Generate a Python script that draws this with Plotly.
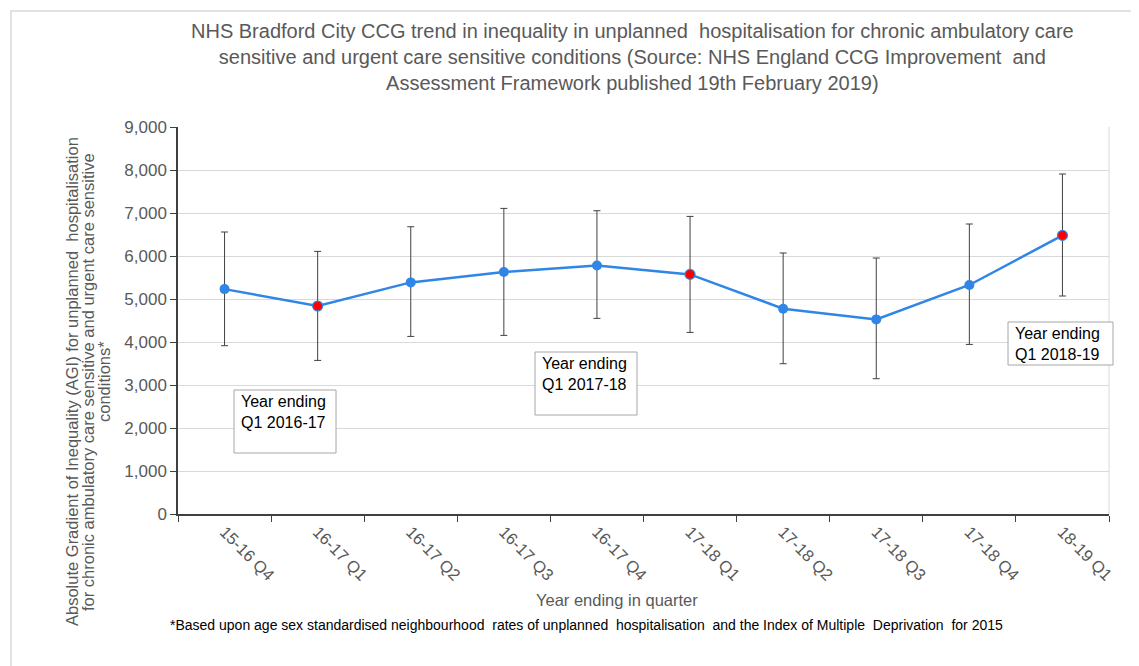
import plotly.graph_objects as go

categories = ["15-16 Q4", "16-17 Q1", "16-17 Q2", "16-17 Q3", "16-17 Q4",
              "17-18 Q1", "17-18 Q2", "17-18 Q3", "17-18 Q4", "18-19 Q1"]
agi = [5230, 4837, 5386, 5628, 5781, 5572, 4774, 4526, 5326, 6479]
upper = [6558, 6107, 6681, 7107, 7053, 6921, 6070, 5953, 6744, 7907]
lower = [3914, 3572, 4130, 4154, 4549, 4223, 3495, 3147, 3944, 5070]
highlight = [False, True, False, False, False, True, False, False, False, True]

title_lines = ["NHS Bradford City CCG trend in inequality in unplanned  hospitalisation for chronic ambulatory care",
               "sensitive and urgent care sensitive conditions (Source: NHS England CCG Improvement  and",
               "Assessment Framework published 19th February 2019)"]
ytitle_lines = ["Absolute Gradient of Inequality (AGI) for unplanned  hospitalisation",
                "for chronic ambulatory care sensitive and urgent care sensitive",
                "conditions*"]
xtitle = "Year ending in quarter"
footnote = "*Based upon age sex standardised neighbourhood  rates of unplanned  hospitalisation  and the Index of Multiple  Deprivation  for 2015"
box_texts = ["Year ending<br>Q1 2016-17", "Year ending<br>Q1 2017-18", "Year ending<br>Q1 2018-19"]

OFF = 8  # page body margin
W, H = 1131, 658
L, R, T, B = 170, 30, 119, 152
PW, PH = W - L - R, H - T - B

def px(x):
    return (x - OFF - L) / PW

def py(y):
    return (H - B - (y - OFF)) / PH

err_plus = [u - v for u, v in zip(upper, agi)]
err_minus = [v - l for v, l in zip(agi, lower)]
BLUE = "#2f86e6"
GREY = "#595959"
FONT = "Liberation Sans, Arial, sans-serif"

fig = go.Figure()
fig.add_trace(go.Scatter(
    x=categories, y=agi, mode="lines+markers",
    line=dict(color=BLUE, width=2.5),
    marker=dict(size=10, color=["#ff0000" if h else BLUE for h in highlight],
                line=dict(color=BLUE, width=[1.2 if h else 0 for h in highlight])),
    error_y=dict(type="data", symmetric=False, array=err_plus, arrayminus=err_minus,
                 color="#404040", thickness=1, width=3.5),
    showlegend=False, hoverinfo="x+y"))

shapes = [
    dict(type="rect", xref="paper", yref="paper", x0=px(11), x1=px(1170), y0=py(11), y1=py(720),
         line=dict(color="#d9d9d9", width=1.5), layer="below"),
    dict(type="line", xref="paper", yref="paper", x0=1, x1=1, y0=0, y1=1,
         line=dict(color="#d9d9d9", width=1)),
]
box_px = [(234, 336, 390, 453), (535, 637, 352, 415), (1008, 1113, 322, 365)]
annotations = []
for (x0, x1, y0, y1), t in zip(box_px, box_texts):
    shapes.append(dict(type="rect", xref="paper", yref="paper", x0=px(x0), x1=px(x1),
                       y0=py(y1), y1=py(y0), line=dict(color="#a6a6a6", width=1),
                       fillcolor="white", layer="above"))
    annotations.append(dict(xref="paper", yref="paper", x=px(x0 + 5), y=py(y0 + 1),
                            xanchor="left", yanchor="top", align="left", showarrow=False,
                            text=t, font=dict(family=FONT, size=16, color="#000000")))

annotations.append(dict(xref="paper", yref="paper", x=px(632), y=py(57), xanchor="center",
                        yanchor="middle", showarrow=False, text="<br>".join(title_lines),
                        font=dict(family=FONT, size=20, color=GREY)))
for i, ln in enumerate(ytitle_lines):
    annotations.append(dict(xref="paper", yref="paper", x=px(72 + 16 * i), y=py(382),
                            xanchor="center", yanchor="middle", textangle=-90, showarrow=False,
                            text=ln, font=dict(family=FONT, size=16.5, color=GREY)))
annotations.append(dict(xref="paper", yref="paper", x=px(617), y=py(600), xanchor="center",
                        yanchor="middle", showarrow=False, text=xtitle,
                        font=dict(family=FONT, size=16.5, color=GREY)))
annotations.append(dict(xref="paper", yref="paper", x=px(168), y=py(625), xanchor="left",
                        yanchor="middle", showarrow=False, text=footnote,
                        font=dict(family=FONT, size=14, color="#000000")))

fig.update_layout(
    width=W, height=H, margin=dict(l=L, r=R, t=T, b=B),
    paper_bgcolor="white", plot_bgcolor="white",
    font=dict(family=FONT, color=GREY),
    shapes=shapes, annotations=annotations,
    xaxis=dict(type="category", range=[-0.5, 9.5], tickangle=45, tickson="boundaries",
               ticks="outside", ticklen=6, tickcolor="#404040", showline=True,
               linecolor="#404040", linewidth=1.5, showgrid=False,
               tickfont=dict(family=FONT, size=16.5, color=GREY)),
    yaxis=dict(range=[0, 9000], dtick=1000, tickformat=",", ticks="outside", ticklen=6,
               tickcolor="#404040", showline=True, linecolor="#404040", linewidth=1.5,
               showgrid=True, gridcolor="#d9d9d9", gridwidth=1, zeroline=False,
               tickfont=dict(family=FONT, size=17, color=GREY)),
)
fig.write_html("out.html")
